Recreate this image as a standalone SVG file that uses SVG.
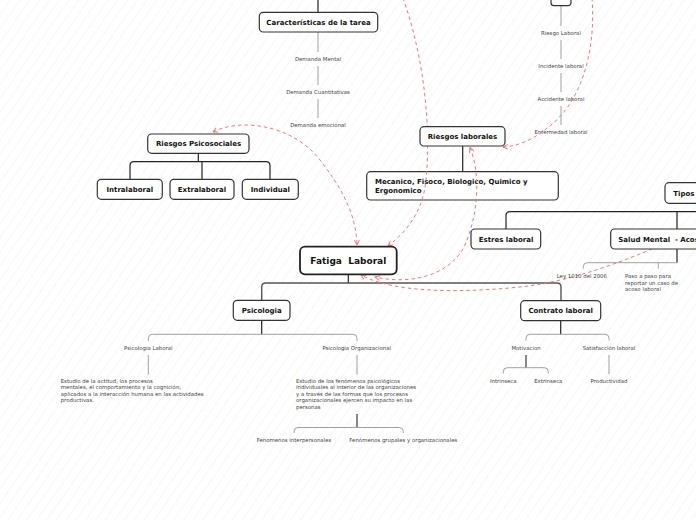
<svg xmlns="http://www.w3.org/2000/svg" width="696" height="520" viewBox="0 0 696 520">
<defs>
<pattern id="bg" width="8" height="8" patternUnits="userSpaceOnUse" patternTransform="rotate(35)">
<rect width="8" height="8" fill="#ffffff"/>
<line x1="0" y1="0" x2="0" y2="8" stroke="#f0f0f0" stroke-width="1.1"/>
</pattern>
<marker id="ar" viewBox="0 0 10 10" refX="9" refY="5" markerWidth="6" markerHeight="6" markerUnits="userSpaceOnUse" orient="auto-start-reverse">
<path d="M1,1 L9,5 L1,9" fill="none" stroke="#f07070" stroke-width="1.6"/>
</marker>
<style>
.box{fill:#ffffff;stroke:#333333;stroke-width:1.2}
.big{fill:#ffffff;stroke:#222222;stroke-width:1.8}
.nt{font-family:"DejaVu Sans",Verdana,sans-serif;font-weight:bold;font-size:7px;fill:#111111;text-anchor:middle}
.st{font-family:"DejaVu Sans",Verdana,sans-serif;font-size:5.4px;fill:#444444;text-anchor:middle}
.pt{font-family:"DejaVu Sans",Verdana,sans-serif;font-size:5.4px;fill:#444444}
.dk{fill:none;stroke:#222222;stroke-width:1.2}
.md{fill:none;stroke:#555555;stroke-width:1.4}
.lt{fill:none;stroke:#a0a0a0;stroke-width:1}
.dash{fill:none;stroke:#f07878;stroke-width:1;stroke-dasharray:3.5,3}
</style>
</defs>
<rect width="696" height="520" fill="url(#bg)"/>

<g id="tree-lines">
<path class="dk" d="M318,0 V12.3"/>
<path class="lt" d="M318,32 V52 M318,66 V85 M318,99 V118"/>
<path class="lt" d="M561,6 V26 M561,40 V59 M561,73 V92 M561,106 V125"/>
<path class="dk" d="M198.3,153.3 V161.7 M130,179.3 V165.7 Q130,161.7 134,161.7 H266 Q270,161.7 270,165.7 V179.3 M202,161.7 V179.3"/>
<path class="dk" d="M462.7,146 V171.7"/>
<path class="dk" d="M348.3,274.3 V283"/>
<path class="md" d="M261.7,300.3 V287 Q261.7,283 265.7,283 H557 Q561,283 561,287 V300.7"/>
<path class="dk" d="M261.7,320.3 V334.3"/>
<path class="lt" d="M148.3,341 V338.3 Q148.3,334.3 152.3,334.3 H353 Q357,334.3 357,338.3 V341"/>
<path class="lt" d="M148.3,355 V374.5 M357,355 V374.5"/>
<path class="md" d="M357,414 V427.5"/>
<path class="lt" d="M294,433 V431.5 Q294,427.5 298,427.5 H399.3 Q403.3,427.5 403.3,431.5 V433"/>
<path class="dk" d="M560.7,320.7 V334.3"/>
<path class="lt" d="M526,340.5 V338.3 Q526,334.3 530,334.3 H605 Q609,334.3 609,338.3 V340.5"/>
<path class="md" d="M526,355 V367.7"/>
<path class="lt" d="M503.3,373.5 V371.7 Q503.3,367.7 507.3,367.7 H544.3 Q548.3,367.7 548.3,371.7 V373.5"/>
<path class="lt" d="M609,355 V374"/>
<path class="dk" d="M506,229 V215.7 Q506,211.7 510,211.7 H700 M677,211.7 V229"/>
<path class="dk" d="M677,249 V262.7"/>
<path class="lt" d="M583.3,268.5 V266.7 Q583.3,262.7 587.3,262.7 H677 M658.3,262.7 V268.5"/>
</g>

<g id="n-caracteristicas">
<rect class="box" x="259.3" y="12.3" width="118.4" height="19.7" rx="4"/>
<text class="nt" x="318.5" y="24.6">Características de la tarea</text>
</g>
<g id="n-demandas">
<text class="st" x="318" y="61">Demanda Mental</text>
<text class="st" x="318" y="94">Demanda Cuantitativas</text>
<text class="st" x="318" y="127">Demanda emocional</text>
</g>
<g id="n-top-right">
<rect class="box" x="551" y="-10" width="20" height="15.7" rx="3"/>
<text class="st" x="561" y="35">Riesgo Laboral</text>
<text class="st" x="561" y="68">Incidente laboral</text>
<text class="st" x="561" y="101">Accidente laboral</text>
<text class="st" x="561" y="134">Enfermedad laboral</text>
</g>
<g id="n-psicosociales">
<rect class="box" x="147.7" y="134" width="101.3" height="19.3" rx="4"/>
<text class="nt" x="198.5" y="146.3">Riesgos Psicosociales</text>
</g>
<g id="n-intralaboral">
<rect class="box" x="97.3" y="179.3" width="65" height="20" rx="4"/>
<text class="nt" x="129.8" y="191.8">Intralaboral</text>
</g>
<g id="n-extralaboral">
<rect class="box" x="170" y="179.3" width="64" height="20" rx="4"/>
<text class="nt" x="202" y="191.8">Extralaboral</text>
</g>
<g id="n-individual">
<rect class="box" x="242.3" y="179.3" width="56" height="20" rx="4"/>
<text class="nt" x="270.3" y="191.8">Individual</text>
</g>
<g id="n-mecanico">
<rect class="box" x="366.7" y="171.7" width="191.6" height="28.3" rx="4"/>
<text class="nt" style="text-anchor:start" x="375" y="184.2">Mecanico, Fisoco, Biologico, Quimico y</text>
<text class="nt" style="text-anchor:start" x="375" y="193.2">Ergonomico</text>
</g>

<g id="connectors">
<path class="dash" marker-start="url(#ar)" marker-end="url(#ar)" d="M213,132 C240,118 292,124 320,160 C340,186 356,212 357,245"/>
<path class="dash" marker-end="url(#ar)" d="M403,-2 C425,60 431,130 426,180 C423,212 406,232 388,246"/>
<path class="dash" marker-start="url(#ar)" marker-end="url(#ar)" d="M470,147.5 C481,175 478,215 465,245 C450,276 410,285 375,277"/>
<path class="dash" marker-end="url(#ar)" d="M592,-2 C596,50 582,100 551,125 C536,138 520,146 503,147"/>
<path class="dash" marker-end="url(#ar)" d="M700,228 C640,255 582,280 520,287 C460,293 394,293 361,275"/>
</g>

<g id="n-riesgos-laborales">
<rect class="box" x="420" y="126.7" width="85" height="19.3" rx="4"/>
<text class="nt" x="462.5" y="139">Riesgos laborales</text>
</g>
<g id="n-fatiga">
<rect class="big" x="300" y="246.7" width="96.7" height="27.6" rx="5"/>
<text class="nt" style="font-size:9px" x="348.3" y="263.8">Fatiga&#160; Laboral</text>
</g>
<g id="n-psicologia">
<rect class="box" x="233.3" y="300.3" width="56.7" height="20" rx="4"/>
<text class="nt" x="261.7" y="312.8">Psicologia</text>
</g>
<g id="n-psic-laboral">
<text class="st" x="148.3" y="350.3">Psicologia Laboral</text>
<text class="pt" x="60.7" y="382.7">Estudio de la actitud, los procesos</text>
<text class="pt" x="60.7" y="389.3">mentales, el comportamiento y la cognición,</text>
<text class="pt" x="60.7" y="396">aplicados a la interacción humana en las actividades</text>
<text class="pt" x="60.7" y="402.4">productivas.</text>
</g>
<g id="n-psic-org">
<text class="st" x="356.7" y="350.3">Psicologia Organizacional</text>
<text class="pt" x="296" y="382.7">Estudio de los fenómenos psicológicos</text>
<text class="pt" x="296" y="389.3">individuales al interior de las organizaciones</text>
<text class="pt" x="296" y="396">y a través de las formas que los procesos</text>
<text class="pt" x="296" y="402.4">organizacionales ejercen su impacto en las</text>
<text class="pt" x="296" y="409.2">personas</text>
<text class="st" x="294" y="442">Fenomenos interpersonales</text>
<text class="st" x="403.3" y="442">Fenómenos grupales y organizacionales</text>
</g>
<g id="n-contrato">
<rect class="box" x="520.7" y="300.7" width="80" height="20" rx="4"/>
<text class="nt" x="560.7" y="313.2">Contrato laboral</text>
<text class="st" x="526" y="350.3">Motivacion</text>
<text class="st" x="609" y="350.3">Satisfacción laboral</text>
<text class="st" x="503.3" y="383">Intrinseca</text>
<text class="st" x="548.3" y="383">Extrinseca</text>
<text class="st" x="609" y="383">Productividad</text>
</g>
<g id="n-tipos">
<rect class="box" x="665" y="182.7" width="60" height="20.6" rx="4"/>
<text class="nt" style="text-anchor:start" x="673.3" y="195.5">Tipos</text>
</g>
<g id="n-estres">
<rect class="box" x="471" y="229" width="69.7" height="20" rx="4"/>
<text class="nt" x="506" y="241.5">Estres laboral</text>
</g>
<g id="n-salud">
<rect class="box" x="610.7" y="229" width="130" height="20" rx="4"/>
<text class="nt" style="text-anchor:start" x="618.3" y="241.5">Salud Mental&#160; - Acos</text>
<text class="pt" x="556.7" y="278">Ley 1010 del 2006</text>
<text class="pt" x="625" y="278">Paso a paso para</text>
<text class="pt" x="625" y="284.7">reportar un caso de</text>
<text class="pt" x="625" y="290.8">acoso laboral</text>
</g>
</svg>
